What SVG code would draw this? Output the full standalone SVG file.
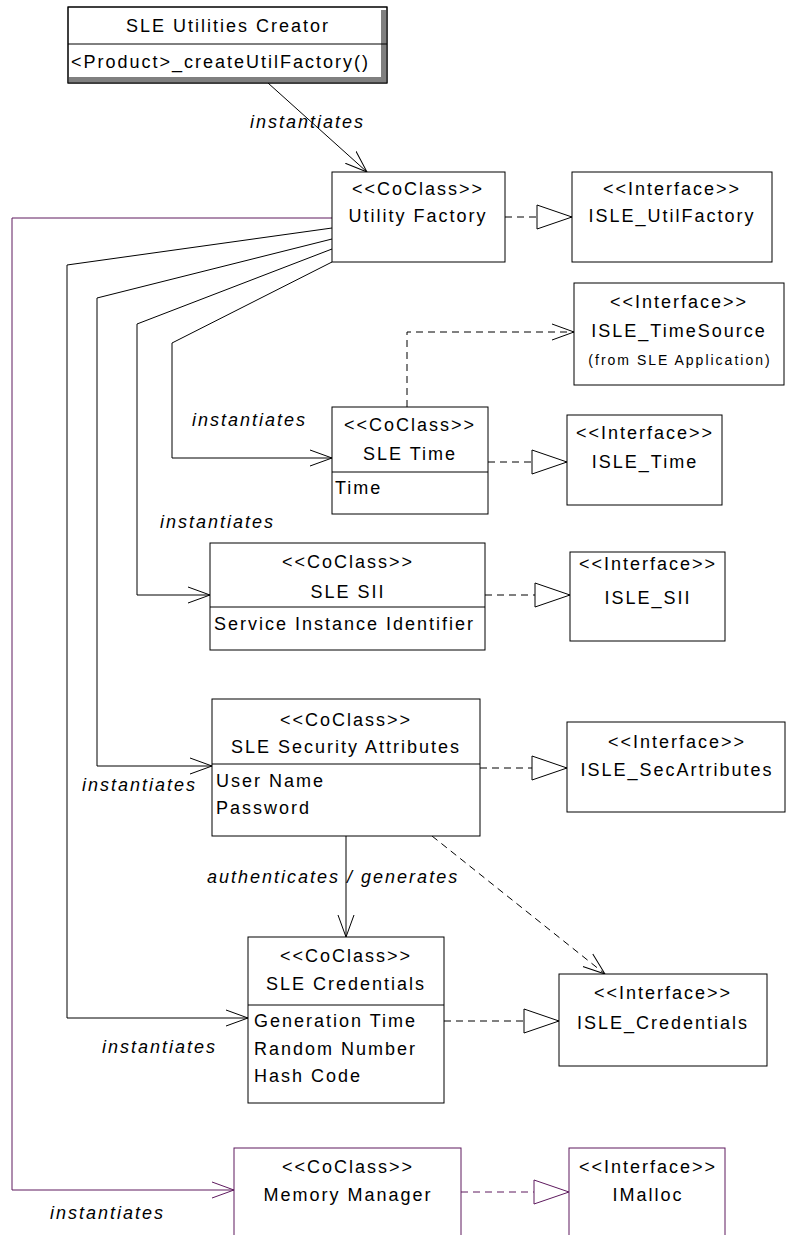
<svg xmlns="http://www.w3.org/2000/svg" width="786" height="1235" viewBox="0 0 786 1235">
<style>
text{font-family:"Liberation Sans",Arial,sans-serif;font-size:18px;letter-spacing:2px;fill:#000}
.c{text-anchor:middle}
.i{font-style:italic}
.sm{font-size:14px}
.box{fill:#fff;stroke:#000;stroke-width:1}
.pbox{fill:#fff;stroke:#5e1a5e;stroke-width:1}
.ln{fill:none;stroke:#000;stroke-width:1}
.pln{fill:none;stroke:#5e1a5e;stroke-width:1}
.dash{stroke-dasharray:7,5}
</style>
<defs>
<marker id="open" markerUnits="userSpaceOnUse" markerWidth="24" markerHeight="18" refX="22" refY="9" orient="auto" viewBox="0 0 24 18">
<path d="M0,1 L22,9 L0,17" fill="none" stroke="#000" stroke-width="1"/>
</marker>
<marker id="popen" markerUnits="userSpaceOnUse" markerWidth="24" markerHeight="18" refX="22" refY="9" orient="auto" viewBox="0 0 24 18">
<path d="M0,1 L22,9 L0,17" fill="none" stroke="#5e1a5e" stroke-width="1"/>
</marker>
<marker id="tri" markerUnits="userSpaceOnUse" markerWidth="38" markerHeight="26" refX="36" refY="13" orient="auto" viewBox="0 0 38 26">
<path d="M1,1 L36,13 L1,25 Z" fill="#fff" stroke="#000" stroke-width="1"/>
</marker>
<marker id="ptri" markerUnits="userSpaceOnUse" markerWidth="38" markerHeight="26" refX="36" refY="13" orient="auto" viewBox="0 0 38 26">
<path d="M1,1 L36,13 L1,25 Z" fill="#fff" stroke="#5e1a5e" stroke-width="1"/>
</marker>
</defs>

<g id="connectors">
<!-- creator instantiates factory -->
<line class="ln" x1="268" y1="83" x2="367" y2="172" marker-end="url(#open)"/>
<!-- factory instantiates -->
<polyline class="pln" points="332,218 12,218 12,1190 234,1190" marker-end="url(#popen)"/>
<polyline class="ln" points="332,228 67,265 67,1018 248,1018" marker-end="url(#open)"/>
<polyline class="ln" points="332,239 97,298 97,766 212,766" marker-end="url(#open)"/>
<polyline class="ln" points="332,249 137,324 137,595 210,595" marker-end="url(#open)"/>
<polyline class="ln" points="332,262 172,343 172,458 332,458" marker-end="url(#open)"/>
<!-- realizations -->
<line class="ln dash" x1="505" y1="217" x2="572" y2="217" marker-end="url(#tri)"/>
<line class="ln dash" x1="488" y1="462" x2="567" y2="462" marker-end="url(#tri)"/>
<line class="ln dash" x1="485" y1="595" x2="570" y2="595" marker-end="url(#tri)"/>
<line class="ln dash" x1="480" y1="768" x2="567" y2="768" marker-end="url(#tri)"/>
<line class="ln dash" x1="444" y1="1021" x2="559" y2="1021" marker-end="url(#tri)"/>
<line class="pln dash" x1="461" y1="1192" x2="569" y2="1192" marker-end="url(#ptri)"/>
<!-- dependencies -->
<polyline class="ln dash" points="407,407 407,332 574,332" marker-end="url(#open)"/>
<line class="ln dash" x1="432" y1="836" x2="605" y2="974" marker-end="url(#open)"/>
<!-- authenticates / generates -->
<line class="ln" x1="346" y1="836" x2="346" y2="937" marker-end="url(#open)"/>
<!-- labels -->
<text class="i" x="250" y="128">instantiates</text>
<text class="i" x="192" y="426">instantiates</text>
<text class="i" x="160" y="528">instantiates</text>
<text class="i" x="82" y="791">instantiates</text>
<text class="i" x="207" y="883">authenticates / generates</text>
<text class="i" x="102" y="1053">instantiates</text>
<text class="i" x="50" y="1219">instantiates</text>
</g>

<g id="creator">
<rect class="box" x="68" y="7" width="319" height="76"/>
<rect x="381" y="10" width="6" height="73" fill="#808080"/>
<rect x="68" y="77" width="319" height="6" fill="#808080"/>
<rect x="68" y="7" width="319" height="76" fill="none" stroke="#000"/>
<line class="ln" x1="68" y1="44" x2="387" y2="44"/>
<text class="c" x="228" y="32">SLE Utilities Creator</text>
<text x="71" y="68">&lt;Product&gt;_createUtilFactory()</text>
</g>

<g id="utility-factory">
<rect class="box" x="332" y="172" width="173" height="90"/>
<text class="c" x="418" y="195">&lt;&lt;CoClass&gt;&gt;</text>
<text class="c" x="418" y="222">Utility Factory</text>
</g>

<g id="isle-utilfactory">
<rect class="box" x="572" y="172" width="200" height="90"/>
<text class="c" x="672" y="195">&lt;&lt;Interface&gt;&gt;</text>
<text class="c" x="672" y="222">ISLE_UtilFactory</text>
</g>

<g id="isle-timesource">
<rect class="box" x="574" y="283" width="210" height="102"/>
<text class="c" x="679" y="308">&lt;&lt;Interface&gt;&gt;</text>
<text class="c" x="679" y="337">ISLE_TimeSource</text>
<text class="c sm" x="680" y="365">(from SLE Application)</text>
</g>

<g id="sle-time">
<rect class="box" x="332" y="407" width="156" height="107"/>
<line class="ln" x1="332" y1="472" x2="488" y2="472"/>
<text class="c" x="410" y="431">&lt;&lt;CoClass&gt;&gt;</text>
<text class="c" x="410" y="460">SLE Time</text>
<text x="335" y="494">Time</text>
</g>

<g id="isle-time">
<rect class="box" x="567" y="415" width="155" height="90"/>
<text class="c" x="645" y="439">&lt;&lt;Interface&gt;&gt;</text>
<text class="c" x="645" y="468">ISLE_Time</text>
</g>

<g id="sle-sii">
<rect class="box" x="210" y="543" width="275" height="107"/>
<line class="ln" x1="210" y1="607" x2="485" y2="607"/>
<text class="c" x="348" y="568">&lt;&lt;CoClass&gt;&gt;</text>
<text class="c" x="348" y="598">SLE SII</text>
<text x="214" y="630">Service Instance Identifier</text>
</g>

<g id="isle-sii">
<rect class="box" x="570" y="552" width="155" height="89"/>
<text class="c" x="648" y="570">&lt;&lt;Interface&gt;&gt;</text>
<text class="c" x="648" y="604">ISLE_SII</text>
</g>

<g id="sle-security-attributes">
<rect class="box" x="212" y="699" width="268" height="137"/>
<line class="ln" x1="212" y1="764" x2="480" y2="764"/>
<text class="c" x="346" y="726">&lt;&lt;CoClass&gt;&gt;</text>
<text class="c" x="346" y="753">SLE Security Attributes</text>
<text x="216" y="787">User Name</text>
<text x="216" y="814">Password</text>
</g>

<g id="isle-secartributes">
<rect class="box" x="567" y="722" width="218" height="90"/>
<text class="c" x="677" y="748">&lt;&lt;Interface&gt;&gt;</text>
<text class="c" x="677" y="776">ISLE_SecArtributes</text>
</g>

<g id="sle-credentials">
<rect class="box" x="248" y="937" width="196" height="166"/>
<line class="ln" x1="248" y1="1005" x2="444" y2="1005"/>
<text class="c" x="346" y="962">&lt;&lt;CoClass&gt;&gt;</text>
<text class="c" x="346" y="990">SLE Credentials</text>
<text x="254" y="1027">Generation Time</text>
<text x="254" y="1055">Random Number</text>
<text x="254" y="1082">Hash Code</text>
</g>

<g id="isle-credentials">
<rect class="box" x="559" y="974" width="208" height="92"/>
<text class="c" x="663" y="999">&lt;&lt;Interface&gt;&gt;</text>
<text class="c" x="663" y="1029">ISLE_Credentials</text>
</g>

<g id="memory-manager">
<rect class="pbox" x="234" y="1148" width="227" height="100"/>
<text class="c" x="348" y="1173">&lt;&lt;CoClass&gt;&gt;</text>
<text class="c" x="348" y="1201">Memory Manager</text>
</g>

<g id="imalloc">
<rect class="pbox" x="569" y="1148" width="156" height="100"/>
<text class="c" x="648" y="1173">&lt;&lt;Interface&gt;&gt;</text>
<text class="c" x="648" y="1201">IMalloc</text>
</g>
</svg>
